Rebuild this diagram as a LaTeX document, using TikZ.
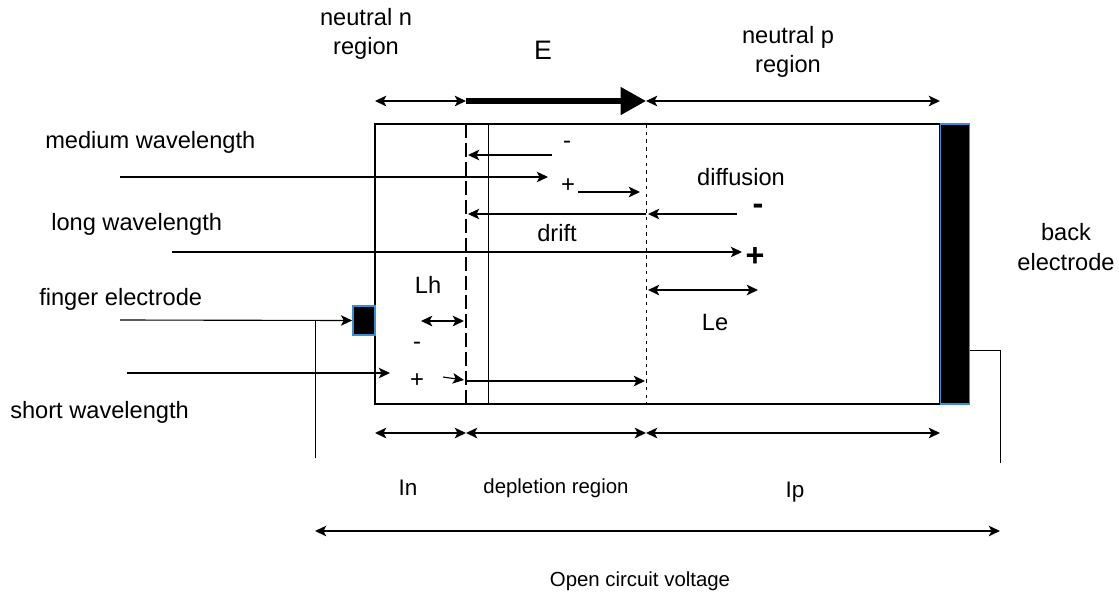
\documentclass[tikz,border=0pt]{standalone}
\usepackage{fontspec}
\setmainfont{Liberation Sans}
\usetikzlibrary{arrows.meta, positioning}
\definecolor{rimblue}{RGB}{58, 142, 214}

\begin{document}
\begin{tikzpicture}[x=0.025cm, y=-0.025cm]
    \tikzstyle{lbl} = [font=\fontsize{16.8}{21}\selectfont, inner sep=0pt, align=center]
    \tikzstyle{smalllbl} = [font=\fontsize{14.5}{17}\selectfont, inner sep=0pt]
    \tikzstyle{sign} = [font=\fontsize{17}{19}\selectfont, inner sep=0pt]
    \tikzstyle{bigsign} = [font=\fontsize{23}{25}\selectfont\bfseries, inner sep=0pt]
    \tikzstyle{ray} = [-{Stealth[length=8pt, width=7.5pt, inset=2pt]}, line width=0.8pt]
    \tikzstyle{carrier} = [-{Stealth[length=8pt, width=7.5pt, inset=2pt]}, line width=1.2pt]
    \tikzstyle{dim} = [{Stealth[length=8pt, width=7.5pt, inset=2pt]}-{Stealth[length=8pt, width=7.5pt, inset=2pt]}, line width=1.3pt]
    \tikzstyle{efield} = [-{Triangle[length=18pt, width=19pt]}, line width=3.6pt]
    \tikzstyle{electrode} = [fill=black, draw=rimblue, line width=1.2pt, inner sep=0pt]

    \useasboundingbox (0,0) rectangle (1119,594);

    % the cell and its region borders
    \draw[line width=1pt] (375,124) rectangle (940,404);
    \draw[line width=0.7pt] (488,124) -- (488,404);
    \draw[line width=1.6pt, dash pattern=on 10pt off 3.5pt] (466,124) -- (466,404);
    \draw[line width=0.6pt, dash pattern=on 2.5pt off 3pt] (646,124) -- (646,404);

    \node[electrode, minimum width=0.55cm, minimum height=0.725cm] (finger) at (364,320.5) {};
    \node[electrode, minimum width=0.725cm, minimum height=7cm] (back) at (955,264) {};

    % region widths on top
    \coordinate (topA) at (375,101);
    \coordinate (topB) at (466,101);
    \coordinate (topC) at (646,101);
    \coordinate (topD) at (940,101);
    \draw[dim] (topA) -- (topB);
    \draw[efield] (topB) -- (topC);
    \draw[dim] (topC) -- (topD);

    \node[lbl] (nreg) at (366,34) {neutral n\\region};
    \node[lbl, font=\fontsize{19}{22}\selectfont] (efld) at (543,50) {E};
    \node[lbl] (preg) at (788,52) {neutral p\\region};

    % incoming light
    \node[lbl, anchor=west] (medlbl)    at (45,142)  {medium wavelength};
    \node[lbl, anchor=west] (longlbl)   at (51,224)  {long wavelength};
    \node[lbl, anchor=west] (fingerlbl) at (39,299)  {finger electrode};
    \node[lbl, anchor=west] (shortlbl)  at (10,412)  {short wavelength};

    \coordinate (medin)    at (120,177);
    \coordinate (medhit)   at (548,177);
    \coordinate (longin)   at (172,252);
    \coordinate (longhit)  at (742,252);
    \coordinate (fingerin) at (120,320);
    \coordinate (shortin)  at (127,373);
    \coordinate (shorthit) at (390,373);
    \draw[ray] (medin) -- (medhit);
    \draw[ray] (longin) -- (longhit);
    \draw[ray] (fingerin) -- (finger.west);
    \draw[ray] (shortin) -- (shorthit);

    % medium wavelength pair
    \node[sign] (medminus) at (567,145) {-};
    \node[sign] (medplus)  at (568,186) {+};
    \coordinate (medholeA) at (552,155);
    \coordinate (medholeB) at (468,155);
    \coordinate (medelecA) at (578,192);
    \coordinate (medelecB) at (640,192);
    \draw[carrier] (medholeA) -- (medholeB);
    \draw[carrier] (medelecA) -- (medelecB);

    % long wavelength pair
    \node[lbl] (difflbl) at (741,177) {diffusion};
    \node[bigsign] (longminus) at (758,209) {-};
    \node[bigsign] (longplus)  at (755,257) {+};
    \coordinate (diffA) at (737,214);
    \coordinate (diffB) at (648,214);
    \coordinate (driftA) at (646,214);
    \coordinate (driftB) at (468,214);
    \draw[ray] (diffA) -- (diffB);
    \draw[ray] (driftA) -- (driftB);
    \node[lbl] (driftlbl) at (557,233) {drift};

    % diffusion lengths
    \coordinate (leA) at (648,290);
    \coordinate (leB) at (758,290);
    \draw[dim] (leA) -- (leB);
    \node[lbl] (lelbl) at (715,322) {Le};
    \coordinate (lhA) at (421,321);
    \coordinate (lhB) at (464,321);
    \draw[dim] (lhA) -- (lhB);
    \node[lbl] (lhlbl) at (428,285) {Lh};

    % short wavelength pair
    \node[sign] (shortminus) at (417,346) {-};
    \node[sign] (shortplus)  at (417,381) {+};
    \coordinate (shortholeA) at (443,377);
    \coordinate (shortholeB) at (464,380);
    \coordinate (shortelecA) at (466,381);
    \coordinate (shortelecB) at (645,381);
    \draw[ray] (shortholeA) -- (shortholeB);
    \draw[carrier] (shortelecA) -- (shortelecB);

    % wires to the outside
    \coordinate (fingerjoint) at (315,320);
    \coordinate (fingerfoot)  at (315,458);
    \draw[line width=0.7pt] (fingerjoint) -- (fingerfoot);
    \coordinate (backtap) at (1000,350);
    \coordinate (backfoot) at (1000,463);
    \draw[line width=0.7pt] (back.east |- backtap) -- (backtap) -- (backfoot);
    \node[lbl] (backlbl) at (1066,247) {back\\electrode};

    % region widths below
    \coordinate (botA) at (375,433);
    \coordinate (botB) at (466,433);
    \coordinate (botC) at (646,433);
    \coordinate (botD) at (940,433);
    \draw[dim] (botA) -- (botB);
    \draw[dim] (botB) -- (botC);
    \draw[dim] (botC) -- (botD);
    \node[lbl, font=\fontsize{16}{19}\selectfont] (inlbl) at (408,488) {In};
    \node[smalllbl] (deplbl) at (556,488) {depletion region};
    \node[lbl, font=\fontsize{16}{19}\selectfont] (iplbl) at (795,492) {Ip};

    \coordinate (ocvL) at (315,531);
    \coordinate (ocvR) at (1000,531);
    \draw[dim, line width=1.1pt] (ocvL) -- (ocvR);
    \node[smalllbl] (ocvlbl) at (640,581) {Open circuit voltage};
\end{tikzpicture}
\end{document}
